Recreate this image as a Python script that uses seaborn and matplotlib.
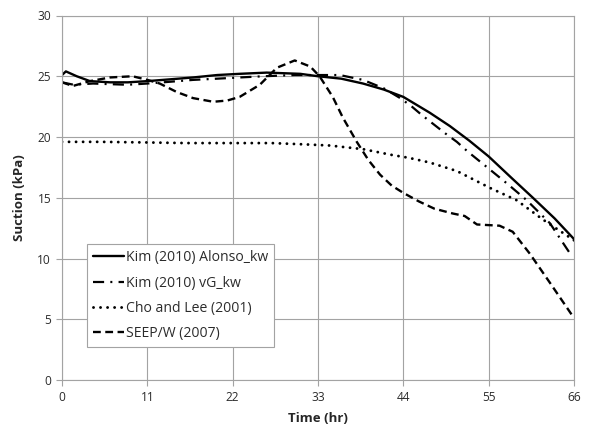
import matplotlib
matplotlib.use("Agg")
import matplotlib.pyplot as plt
import seaborn as sns
import numpy as np

# ---- data ----
alonso_t = [0, 0.5, 1.9, 3.6, 6.2, 8.5, 11, 14, 16.9, 20, 22.9, 26.4, 30.7, 33, 36, 38.8, 41.5, 44, 47.4, 50, 52.5, 55, 58, 60.7, 63.5, 66]
alonso_v = [25.1, 25.4, 25.0, 24.6, 24.5, 24.5, 24.6, 24.75, 24.9, 25.1, 25.2, 25.3, 25.2, 25.0, 24.8, 24.4, 23.9, 23.3, 22.0, 20.9, 19.7, 18.4, 16.6, 15.0, 13.3, 11.6]

vg_t = [0, 1.5, 4, 8.4, 11, 14, 16.9, 20, 22.9, 26, 30, 33, 35.8, 38.8, 41.5, 43.6, 45.1, 46.4, 47.8, 49.4, 50.9, 52.3, 55.2, 57.5, 59.9, 62.9, 65.5, 66]
vg_v = [24.5, 24.3, 24.4, 24.3, 24.4, 24.55, 24.7, 24.8, 24.9, 25.0, 25.1, 25.1, 25.1, 24.7, 24.0, 23.2, 22.5, 21.8, 21.1, 20.3, 19.6, 18.8, 17.3, 16.1, 14.8, 12.9, 10.4, 10.3]

cho_t = [0, 5, 11, 16, 22, 27, 31, 34.5, 38.8, 42.7, 44.6, 47.4, 50.9, 55.2, 58.6, 62, 66]
cho_v = [19.6, 19.6, 19.55, 19.5, 19.5, 19.5, 19.4, 19.3, 19.0, 18.5, 18.3, 17.9, 17.2, 15.8, 14.8, 13.2, 11.5]

seep_t = [0, 1.4, 3.6, 6.2, 9.1, 11, 12.6, 14.8, 16.9, 19.5, 21.3, 22.9, 25.5, 27.7, 30.0, 32.0, 33.2, 34.9, 36.2, 38.0, 39.5, 41.0, 42.5, 44, 46, 48, 50.4, 51.9, 53.5, 56.4, 58.1, 60.3, 62.9, 66]
seep_v = [24.5, 24.2, 24.6, 24.9, 25.0, 24.7, 24.4, 23.7, 23.2, 22.9, 23.0, 23.3, 24.3, 25.7, 26.3, 25.8, 25.0, 23.3, 21.6, 19.6, 18.1, 16.9, 16.0, 15.4, 14.7, 14.1, 13.7, 13.5, 12.8, 12.7, 12.2, 10.4, 8.0, 5.1]

labels = ["Kim (2010) Alonso_kw", "Kim (2010) vG_kw", "Cho and Lee (2001)", "SEEP/W (2007)"]
x_ticks = [0, 11, 22, 33, 44, 55, 66]
y_ticks = [0, 5, 10, 15, 20, 25, 30]

sns.set_style("white")
plt.rcParams["font.family"] = ["Open Sans", "DejaVu Sans"]

GRID = "#a3a3a3"
fig = plt.figure(figsize=(5.92, 4.30), dpi=100)
ax = fig.add_axes([62 / 592, 50 / 430, 512 / 592, 364.5 / 430])

sns.lineplot(x=alonso_t, y=alonso_v, ax=ax, color="black", lw=1.7,
             label=labels[0])
sns.lineplot(x=vg_t, y=vg_v, ax=ax, color="black", lw=1.6,
             linestyle=(0, (5.0, 2.8, 0.9, 2.8)), label=labels[1])
sns.lineplot(x=cho_t, y=cho_v, ax=ax, color="black", lw=2.1,
             linestyle=(0, (0.01, 2.4)), dash_capstyle="round", label=labels[2])
sns.lineplot(x=seep_t, y=seep_v, ax=ax, color="black", lw=1.7,
             linestyle=(0, (3.3, 1.9)), label=labels[3])

ax.set_xlim(0, 66)
ax.set_ylim(0, 30)
ax.set_xticks(x_ticks)
ax.set_yticks(y_ticks)
ax.grid(True, color=GRID, lw=0.8)
ax.set_axisbelow(True)
for s in ax.spines.values():
    s.set_color(GRID)
    s.set_linewidth(0.8)
    s.set_visible(True)
ax.tick_params(axis="both", which="both", direction="out", length=4.3, width=0.8,
               color=GRID, labelsize=8.6, labelcolor="#2b2b2b", pad=3.5)
ax.tick_params(axis="y", left=True)
ax.tick_params(axis="x", bottom=True)

ax.set_xlabel("Time (hr)", fontsize=9.5, fontweight="bold", labelpad=6)
ax.set_ylabel("Suction (kPa)", fontsize=9.5, fontweight="bold", labelpad=8)

leg = ax.legend(loc="lower left", bbox_to_anchor=(0.049, 0.0905), borderaxespad=0,
                fancybox=False, frameon=True, edgecolor=GRID, framealpha=1,
                fontsize=10.1, handlelength=2.15, handletextpad=0.15,
                labelspacing=0.72, borderpad=0.45)
leg.get_frame().set_linewidth(0.8)
for t in leg.get_texts():
    t.set_color("#2b2b2b")

fig.savefig("out.png", dpi=100)
